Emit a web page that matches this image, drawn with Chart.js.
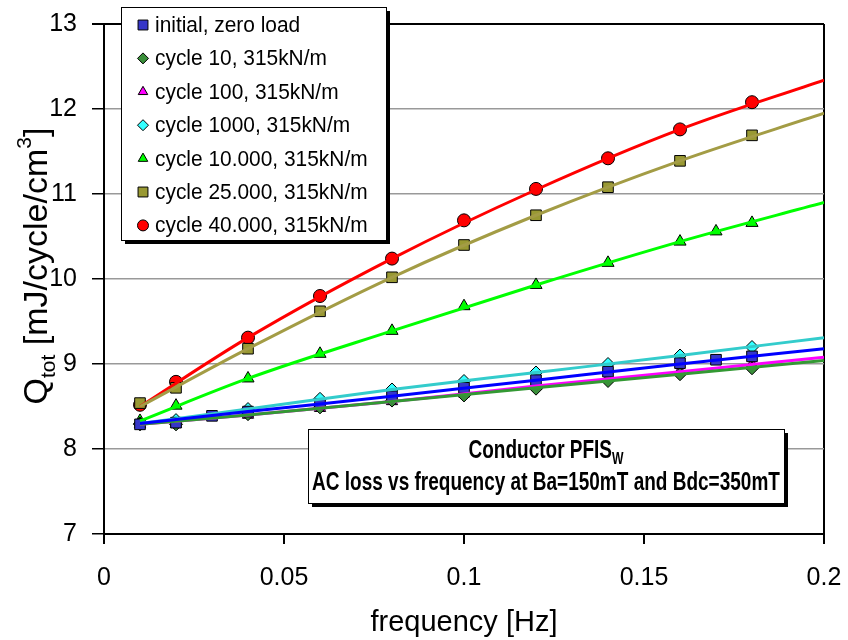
<!DOCTYPE html>
<html>
<head>
<meta charset="utf-8">
<title>AC loss vs frequency</title>
<script src="https://cdn.jsdelivr.net/npm/chart.js@4.4.1/dist/chart.umd.min.js"></script>
<style>
  body { margin: 0; background: #fff; }
  #chart { display: block; }
</style>
</head>
<body>
<canvas id="chart" width="848" height="640"></canvas>
<script>
"use strict";

const freqInitial = [0.01, 0.02, 0.03, 0.04, 0.06, 0.08, 0.1, 0.12, 0.14, 0.16, 0.17, 0.18];
const qInitial = [8.29, 8.31, 8.39, 8.44, 8.53, 8.62, 8.72, 8.81, 8.91, 9.01, 9.05, 9.09];

const freqCycle = [0.01, 0.02, 0.04, 0.06, 0.08, 0.1, 0.12, 0.14, 0.16, 0.18];
const qCycle10 = [8.29, 8.29, 8.41, 8.49, 8.57, 8.63, 8.71, 8.80, 8.88, 8.95];
const qCycle100 = [8.29, 8.29, 8.40, 8.48, 8.56, 8.65, 8.74, 8.83, 8.92, 9.00];
const qCycle1000 = [8.30, 8.34, 8.47, 8.59, 8.70, 8.80, 8.90, 9.00, 9.10, 9.20];
const qCycle25k = [8.54, 8.72, 9.18, 9.62, 10.02, 10.40, 10.75, 11.08, 11.39, 11.69];
const qCycle40k = [8.52, 8.79, 9.31, 9.80, 10.24, 10.69, 11.06, 11.42, 11.76, 12.08];

const freqCycle10k = [0.01, 0.02, 0.04, 0.06, 0.08, 0.1, 0.12, 0.14, 0.16, 0.17, 0.18];
const qCycle10k = [8.33, 8.51, 8.83, 9.12, 9.39, 9.68, 9.93, 10.19, 10.44, 10.56, 10.66];

// fitted curves, read at a few frequencies
const freqFit = [0.01, 0.04, 0.08, 0.12, 0.16, 0.2];
const fitInitial = [8.30, 8.44, 8.62, 8.81, 9.00, 9.18];
const fitCycle10 = [8.29, 8.40, 8.56, 8.72, 8.88, 9.04];
const fitCycle100 = [8.29, 8.40, 8.56, 8.74, 8.91, 9.08];
const fitCycle1000 = [8.30, 8.47, 8.70, 8.90, 9.10, 9.31];
const fitCycle10k = [8.33, 8.83, 9.39, 9.93, 10.44, 10.90];
const fitCycle25k = [8.50, 9.18, 10.02, 10.75, 11.39, 11.95];
const fitCycle40k = [8.50, 9.31, 10.24, 11.05, 11.76, 12.34];

const seriesLabels = [
  "initial, zero load",
  "cycle 10, 315kN/m",
  "cycle 100, 315kN/m",
  "cycle 1000, 315kN/m",
  "cycle 10.000, 315kN/m",
  "cycle 25.000, 315kN/m",
  "cycle 40.000, 315kN/m",
];

const freqTicks = [0, 0.05, 0.1, 0.15, 0.2];
const qTicks = [7, 8, 9, 10, 11, 12, 13];

const FONT = "Arial, 'Liberation Sans', sans-serif";

const pts = (xs, ys) => xs.map((x, i) => ({ x: x, y: ys[i] }));

const series = [
  { xs: freqInitial, ys: qInitial, fit: fitInitial, style: "rect", r: 7.5, fill: "#3636C8", line: "#0000FF" },
  { xs: freqCycle, ys: qCycle10, fit: fitCycle10, style: "rectRot", r: 6.5, fill: "#3A8E3A", line: "#339933" },
  { xs: freqCycle, ys: qCycle100, fit: fitCycle100, style: "triangle", r: 6.5, fill: "#FF00FF", line: "#FF00FF" },
  { xs: freqCycle, ys: qCycle1000, fit: fitCycle1000, style: "rectRot", r: 6.5, fill: "#33FFFF", line: "#33CCCC" },
  { xs: freqCycle10k, ys: qCycle10k, fit: fitCycle10k, style: "triangle", r: 7, fill: "#00FF00", line: "#00FF00" },
  { xs: freqCycle, ys: qCycle25k, fit: fitCycle25k, style: "rect", r: 7.5, fill: "#999933", line: "#A39C45" },
  { xs: freqCycle, ys: qCycle40k, fit: fitCycle40k, style: "circle", r: 6.5, fill: "#FF0000", line: "#FF0000" },
];

const datasets = [];
series.forEach((s, i) => {
  datasets.push({
    label: seriesLabels[i],
    data: pts(s.xs, s.ys),
    showLine: false,
    pointStyle: s.style,
    pointRadius: s.r,
    pointBackgroundColor: s.fill,
    pointBorderColor: "#000",
    pointBorderWidth: 1,
    order: 10 + i,
    inLegend: true,
  });
});
series.forEach((s, i) => {
  datasets.push({
    label: seriesLabels[i] + " fit",
    data: pts(freqFit, s.fit),
    showLine: true,
    borderColor: s.line,
    borderWidth: 3,
    pointRadius: 0,
    cubicInterpolationMode: "monotone",
    order: 0,
  });
});

function squeezed(ctx, text, x, y, sx) {
  ctx.save();
  ctx.translate(x, y);
  ctx.scale(sx, 1);
  ctx.fillText(text, 0, 0);
  ctx.restore();
}

function shadowBox(ctx, x, y, w, h) {
  ctx.fillStyle = "#000";
  ctx.fillRect(x + 4, y + 4, w, h);
  ctx.fillStyle = "#fff";
  ctx.fillRect(x, y, w, h);
  ctx.strokeStyle = "#000";
  ctx.lineWidth = 1;
  ctx.strokeRect(x + 0.5, y + 0.5, w, h);
}

const boxesPlugin = {
  id: "boxes",
  afterDraw(chart) {
    const ctx = chart.ctx;
    ctx.save();

    // legend box inside the plot
    shadowBox(ctx, 121, 7, 265, 233);
    const items = chart.data.datasets.filter((d) => d.inLegend);
    items.forEach((d, i) => {
      const cy = 25 + i * 33.4;
      ctx.fillStyle = d.pointBackgroundColor;
      ctx.strokeStyle = "#000";
      ctx.lineWidth = 1;
      Chart.helpers.drawPoint(ctx, { pointStyle: d.pointStyle, radius: d.pointStyle === "rect" ? 7 : 5.5, rotation: 0, borderWidth: 1 }, 143, cy);
      ctx.fillStyle = "#000";
      ctx.font = "22px " + FONT;
      ctx.textBaseline = "middle";
      ctx.textAlign = "left";
      squeezed(ctx, d.label, 155, cy + 1, 0.95);
    });

    // note box
    shadowBox(ctx, 308, 429, 476, 74);
    ctx.fillStyle = "#000";
    ctx.textBaseline = "alphabetic";
    ctx.textAlign = "left";
    const sx = 0.76;
    ctx.font = "bold 25px " + FONT;
    const t1 = "Conductor PFIS";
    const w1 = ctx.measureText(t1).width * sx;
    ctx.font = "bold 16px " + FONT;
    const ws = ctx.measureText("W").width * sx;
    let x0 = 546 - (w1 + ws) / 2;
    ctx.font = "bold 25px " + FONT;
    squeezed(ctx, t1, x0, 458, sx);
    ctx.font = "bold 16px " + FONT;
    squeezed(ctx, "W", x0 + w1, 464, sx);
    ctx.font = "bold 25px " + FONT;
    ctx.textAlign = "center";
    squeezed(ctx, "AC loss vs frequency at Ba=150mT and Bdc=350mT", 546, 490, sx);

    // y axis title with sub- and superscript
    const parts = [
      { t: "Q", f: "34px", dy: 0 },
      { t: "tot", f: "21px", dy: 8 },
      { t: " [mJ/cycle/cm", f: "34px", dy: 0 },
      { t: "3", f: "21px", dy: -16 },
      { t: "]", f: "34px", dy: 0 },
    ];
    ctx.textAlign = "left";
    let total = 0;
    parts.forEach((p) => {
      ctx.font = p.f + " " + FONT;
      p.w = ctx.measureText(p.t).width;
      total += p.w;
    });
    ctx.translate(47, 266);
    ctx.rotate(-Math.PI / 2);
    let px = -total / 2;
    parts.forEach((p) => {
      ctx.font = p.f + " " + FONT;
      ctx.fillText(p.t, px, p.dy);
      px += p.w;
    });
    ctx.restore();
  },
};

Chart.defaults.font.family = FONT;
Chart.defaults.color = "#000";

new Chart(document.getElementById("chart").getContext("2d"), {
  type: "scatter",
  data: { datasets: datasets },
  options: {
    responsive: false,
    animation: false,
    layout: { padding: { top: 24, right: 24, left: 0, bottom: 0 } },
    plugins: {
      legend: { display: false },
      tooltip: { enabled: false },
    },
    scales: {
      x: {
        type: "linear",
        min: 0,
        max: 0.2,
        afterBuildTicks: (s) => { s.ticks = freqTicks.map((v) => ({ value: v })); },
        afterFit: (s) => {
          s.height = 106;
          s.paddingLeft = 0;
          s.paddingRight = 0;
        },
        ticks: {
          font: { size: 25 },
          padding: 19,
          maxRotation: 0,
          callback: (v) => String(v),
        },
        grid: {
          color: (c) => (c.tick && Math.abs(c.tick.value - 0.2) < 1e-9 ? "#000" : "rgba(0,0,0,0)"),
          lineWidth: 2,
          tickColor: "#000",
          tickLength: 10,
        },
        border: { color: "#000", width: 2 },
        title: {
          display: true,
          text: "frequency [Hz]",
          font: { size: 29 },
          padding: { top: 0, bottom: 0 },
        },
      },
      y: {
        type: "linear",
        min: 7,
        max: 13,
        afterBuildTicks: (s) => { s.ticks = qTicks.map((v) => ({ value: v })); },
        afterFit: (s) => {
          s.width = 104;
          s.paddingTop = 0;
          s.paddingBottom = 0;
        },
        ticks: {
          font: { size: 25 },
          padding: 15,
          callback: (v) => String(v),
        },
        grid: {
          color: (c) => (c.tick && c.tick.value === 13 ? "#000" : "#999"),
          lineWidth: (c) => (c.tick && c.tick.value === 13 ? 2 : 1.5),
          tickColor: "#000",
          tickLength: 12,
        },
        border: { color: "#000", width: 2 },
      },
    },
  },
  plugins: [boxesPlugin],
});
</script>
</body>
</html>
